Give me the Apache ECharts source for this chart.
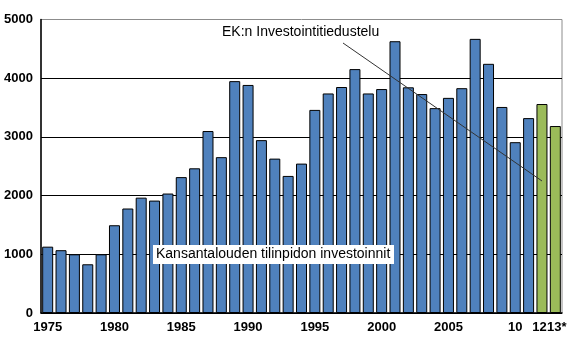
<!DOCTYPE html>
<html>
<head>
<meta charset="utf-8">
<script src="https://cdn.jsdelivr.net/npm/echarts@6/dist/echarts.min.js"></script>
<style>
  html, body { margin: 0; padding: 0; background: #fff; }
  #chart { width: 573px; height: 343px; }
</style>
</head>
<body>
<div id="chart"></div>
<script>
// Years on the category axis
var years = ['1975','1976','1977','1978','1979','1980','1981','1982','1983','1984',
             '1985','1986','1987','1988','1989','1990','1991','1992','1993','1994',
             '1995','1996','1997','1998','1999','2000','2001','2002','2003','2004',
             '2005','2006','2007','2008','2009','2010','2011','2012','2013'];

// Tick labels shown under the bars ('' = no label)
var yearLabels = ['1975','','','','','1980','','','','',
                  '1985','','','','','1990','','','','',
                  '1995','','','','','2000','','','','',
                  '2005','','','','','10','','12','13*'];

// Investments, actual years (blue)
var actual = [1130, 1070, 1000, 830, 1000, 1495, 1780, 1965, 1915, 2035,
              2315, 2465, 3100, 2655, 3950, 3885, 2945, 2630, 2335, 2545,
              3460, 3740, 3850, 4155, 3740, 3815, 4630, 3845, 3730, 3490,
              3665, 3830, 4670, 4245, 3510, 2910, 3320, null, null];

// Forecast years from the survey (green)
var forecast = [null, null, null, null, null, null, null, null, null, null,
                null, null, null, null, null, null, null, null, null, null,
                null, null, null, null, null, null, null, null, null, null,
                null, null, null, null, null, null, null, 3560, 3185];

var yTicks = { min: 0, max: 5000, interval: 1000 };

var chart = echarts.init(document.getElementById('chart'), null, { renderer: 'canvas' });

var fontFamily = '"Liberation Sans", Arial, sans-serif';
var labelFont = { fontFamily: fontFamily, fontSize: 13, fontWeight: 'bold', color: '#000' };

chart.setOption({
  animation: false,
  backgroundColor: '#fff',
  grid: {
    left: 41, right: 11, top: 19.5, bottom: 30,
    show: true, borderColor: '#8c8c8c', borderWidth: 1, backgroundColor: 'transparent'
  },
  xAxis: {
    type: 'category',
    data: years,
    axisLine: { lineStyle: { color: '#000', width: 1.5 } },
    axisTick: { show: false },
    axisLabel: Object.assign({
      interval: 0,
      margin: 8,
      hideOverlap: false,
      formatter: function (v, i) {
        var t = yearLabels[i];
        if (t === '12') return '{l|' + t + '}';
        if (t === '13*') return '{r|' + t + '}';
        return t;
      },
      rich: {
        l: Object.assign({ padding: [0, 5, 0, 0] }, labelFont),
        r: Object.assign({ padding: [0, 0, 0, 3] }, labelFont)
      }
    }, labelFont)
  },
  yAxis: {
    type: 'value',
    min: yTicks.min, max: yTicks.max, interval: yTicks.interval,
    axisLine: { show: true, lineStyle: { color: '#000', width: 1.5 } },
    axisTick: { show: false },
    splitLine: { show: true, showMaxLine: false, lineStyle: { color: '#000', width: 1.2 } },
    axisLabel: Object.assign({ margin: 8, formatter: function (v) { return String(v); } }, labelFont)
  },
  series: [
    {
      type: 'bar',
      name: 'Kansantalouden tilinpidon investoinnit',
      data: actual,
      stack: 'inv',
      barWidth: 11,
      itemStyle: { color: '#4f81bd', borderColor: '#000', borderWidth: 1 }
    },
    {
      type: 'bar',
      name: 'EK:n Investointitiedustelu',
      data: forecast,
      stack: 'inv',
      barWidth: 11,
      itemStyle: { color: '#9bbb59', borderColor: '#000', borderWidth: 1 }
    }
  ],
  graphic: [
    {
      type: 'line',
      z: 100,
      shape: { x1: 343, y1: 43, x2: 542, y2: 181 },
      style: { stroke: '#333', lineWidth: 1 }
    },
    {
      type: 'text',
      z: 100,
      left: 222, top: 25,
      style: {
        text: 'EK:n Investointitiedustelu',
        font: '14px ' + fontFamily,
        fill: '#000'
      }
    },
    {
      type: 'rect',
      z: 99,
      shape: { x: 153, y: 245, width: 241, height: 19 },
      style: { fill: '#fff' }
    },
    {
      type: 'text',
      z: 100,
      left: 156, top: 247,
      style: {
        text: 'Kansantalouden tilinpidon investoinnit',
        font: '14px ' + fontFamily,
        fill: '#000'
      }
    }
  ]
});
</script>
</body>
</html>
